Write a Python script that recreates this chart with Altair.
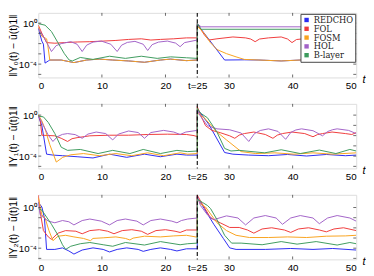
import altair as alt
import pandas as pd

SERIES = ["REDCHO", "FOL", "FOSM", "HOL", "B-layer"]
COLORS = ["#2b2bf2", "#f03a3a", "#f9a31e", "#a262c8", "#3d9b5d"]
X_TICKS = [0, 10, 20, 25, 30, 40, 50]
X_MINOR = [10, 20, 30, 40]
Y_LABELS = [1, 1e-4]
DECADES = [-5, -4, -3, -2, -1, 0]
JUMP_T = [25]

TITLES = ["‖Y₀(t) − ū(t)1‖", "‖Y₁(t) − ū̇(t)1‖", "‖Y₂(t) − ṻ(t)1‖"]
LOG_DOMAINS = [(-5.3, 1.0), (-5.2, 1.1), (-5.1, 1.25)]

# (t, log10 of the error)
P1_REDCHO = [(0,-0.5),(0.55,-1.75),(0.8,-2.05),(1.06,-3.9),(1.57,-3.69),(1.8,-3.6),(3.6,-3.6),(5.6,-3.85),(7.6,-3.6),(9.6,-3.51),(11.7,-3.6),(14.2,-3.69),(16.7,-3.82),(19.2,-3.6),(20.8,-3.51),(23.3,-3.66),(25,-3.6),(25,-0.1),(29.3,-3.6),(32.4,-3.58),(34.7,-3.6),(38.2,-3.69),(41.2,-3.6),(44.2,-3.51),(47.3,-3.69),(50,-3.6)]
P1_FOL = [(0,-0.2),(0.55,-0.98),(1.3,-1.9),(2.6,-1.96),(4.1,-1.9),(6.1,-1.84),(8.1,-1.81),(10.2,-1.75),(12.2,-1.69),(14.2,-1.59),(16.2,-1.53),(17.7,-1.65),(19.2,-1.59),(21.3,-1.53),(23.3,-1.44),(25,-1.44),(25,-0.05),(26.1,-1.13),(26.8,-1.65),(28.1,-1.53),(30.6,-1.35),(32.6,-1.44),(33.4,-1.55),(34.1,-1.81),(34.8,-1.55),(36.2,-1.44),(38.2,-1.35),(39.2,-1.55),(39.9,-1.9),(40.6,-1.6),(41.7,-1.53),(44.2,-1.41),(46.8,-1.53),(48.6,-1.75),(50,-1.6)]
P1_FOSM = [(0,-0.35),(0.55,-1.28),(1.3,-1.53),(1.5,-2.2),(1.8,-3.6),(3.6,-3.6),(5.6,-3.85),(7.6,-3.6),(9.6,-3.51),(11.7,-3.6),(14.2,-3.69),(16.7,-3.82),(19.2,-3.6),(20.8,-3.51),(23.3,-3.66),(25,-3.6),(25,-0.3),(26.06,-0.98),(27.06,-1.9),(28.1,-2.58),(29.6,-2.98),(31.1,-3.29),(32.4,-3.54),(34.7,-3.6),(38.2,-3.69),(41.2,-3.6),(44.2,-3.51),(47.3,-3.69),(50,-3.6)]
P1_HOL = [(0,-0.51),(1.06,-1.59),(2.07,-2.77),(2.8,-2.2),(3.6,-2.0),(5.1,-1.81),(6.1,-2.06),(6.9,-2.77),(7.6,-2.15),(8.6,-1.85),(9.9,-1.75),(11.4,-2.06),(12.4,-2.77),(13.1,-2.15),(14.0,-1.88),(15.2,-1.78),(16.5,-2.06),(17.2,-2.67),(17.9,-2.1),(18.9,-1.85),(20.3,-1.75),(21.6,-1.95),(22.3,-2.3),(23.0,-1.9),(25,-1.65),(25,-0.05),(25.6,-0.36),(50,-0.36)]
P1_BLAYER = [(0,-0.05),(1.06,-0.2),(2.07,-0.82),(3.08,-1.9),(4.1,-2.98),(4.85,-3.6),(5.35,-3.69),(6.6,-3.35),(8.6,-3.54),(11.2,-3.23),(13.7,-3.44),(16.2,-3.23),(18.7,-3.44),(20.8,-3.29),(23.3,-3.38),(25,-3.44),(25,-0.05),(25.6,-0.6),(50,-0.6)]

P2_REDCHO = [(0,-0.1),(0.56,-1.03),(1.3,-3.81),(2.3,-3.9),(3.8,-3.96),(6.1,-4.06),(8.6,-4.18),(11.2,-3.81),(13.9,-4.12),(16.7,-3.81),(19.2,-4.06),(21.8,-3.81),(23.3,-3.9),(25,-3.9),(25,0.51),(25.3,0.36),(26.8,-0.88),(29.3,-3.65),(30.6,-3.81),(33.1,-3.9),(36.2,-3.96),(39.2,-3.84),(42.2,-3.99),(45.3,-3.84),(48.3,-3.96),(50,-3.9)]
P2_FOL = [(0,0.0),(0.3,-0.5),(0.56,-1.96),(2.6,-2.02),(3.6,-2.26),(4.6,-2.57),(5.3,-2.3),(6.1,-2.2),(8.1,-2.02),(11.2,-1.96),(14.2,-1.96),(17.2,-1.89),(20.3,-1.86),(23.3,-1.89),(24.5,-2.0),(25,-2.1),(25,0.82),(25.5,0.05),(26.3,-1.03),(27.3,-1.49),(28.6,-1.71),(30.1,-2.02),(30.9,-2.26),(31.6,-1.95),(32.4,-1.8),(33.9,-1.65),(35.7,-1.89),(36.9,-2.26),(37.6,-1.95),(38.4,-1.8),(39.9,-1.65),(41.9,-1.8),(43.2,-2.11),(43.9,-1.9),(44.7,-1.8),(46.2,-1.65),(48.3,-1.8),(49.3,-1.89),(50,-1.71)]
P2_FOSM = [(0,0.05),(0.56,-0.57),(1.06,-1.34),(1.8,-2.88),(2.83,-4.58),(3.84,-4.12),(5.1,-3.87),(7.1,-3.75),(9.6,-3.96),(12.2,-3.75),(14.7,-3.96),(17.2,-3.68),(19.7,-3.96),(22.3,-3.68),(23.5,-3.81),(25,-3.75),(25,0.2),(26.1,-0.26),(28.1,-1.65),(29.6,-2.42),(31.9,-3.56),(34.2,-3.75),(37.2,-3.68),(40.2,-3.81),(43.2,-3.68),(46.3,-3.81),(50,-3.68)]
P2_HOL = [(0,-0.04),(0.8,-1.03),(1.57,-1.96),(2.3,-2.57),(3.0,-2.1),(3.8,-1.88),(4.6,-1.8),(5.8,-1.9),(6.9,-2.26),(7.8,-1.85),(9.1,-1.65),(10.6,-1.8),(11.7,-2.42),(12.6,-1.85),(14.2,-1.55),(15.7,-1.7),(16.7,-2.26),(17.7,-1.7),(19.7,-1.49),(21.3,-1.65),(22.3,-1.89),(23.2,-1.65),(25,-1.49),(25,0.51),(25.5,-0.1),(26.6,-1.03),(28.1,-1.34),(30.1,-1.43),(31.9,-1.75),(33.1,-2.57),(34.0,-1.8),(34.9,-1.5),(36.2,-1.34),(37.7,-1.59),(38.9,-2.36),(39.7,-1.7),(40.5,-1.45),(41.4,-1.34),(43.2,-1.52),(44.7,-2.02),(45.5,-1.6),(46.3,-1.42),(47.0,-1.34),(48.8,-1.49),(50,-1.8)]
P2_BLAYER = [(0,-0.1),(0.8,-0.17),(1.57,-0.72),(2.6,-1.8),(3.6,-3.13),(4.6,-3.44),(6.6,-3.35),(9.4,-3.75),(11.7,-3.44),(14.4,-3.75),(16.5,-3.35),(19.2,-3.75),(21.8,-3.44),(23.5,-3.56),(25,-3.5),(25,0.67),(25.5,0.2),(26.6,-0.26),(28.1,-1.65),(29.3,-3.25),(30.3,-3.5),(31.6,-3.44),(35.6,-3.68),(38.2,-3.38),(41.2,-3.75),(44.2,-3.41),(46.8,-3.75),(49.0,-3.35),(50,-3.5)]

P3_REDCHO = [(0,0.51),(0.56,0.05),(0.96,-1.03),(1.3,-4.12),(2.6,-4.12),(3.8,-3.97),(4.8,-4.27),(5.6,-4.58),(6.9,-4.18),(8.6,-3.97),(10.2,-4.12),(11.2,-4.37),(12.4,-4.12),(13.9,-3.97),(15.7,-4.12),(16.5,-4.31),(17.7,-4.12),(19.2,-3.97),(20.8,-4.12),(21.8,-4.27),(23.3,-4.06),(25,-4.06),(25,0.97),(25.5,0.51),(26.1,-0.11),(27.6,-1.65),(29.1,-3.04),(30.1,-3.97),(31.1,-4.12),(35.7,-4.12),(39.7,-4.03),(43.2,-4.12),(46.3,-4.03),(50,-4.18)]
P3_FOL = [(0,1.22),(0.2,-0.11),(0.8,-2.27),(1.57,-2.89),(2.07,-3.13),(3.1,-2.52),(4.3,-2.27),(5.9,-2.33),(6.9,-2.58),(8.1,-2.27),(9.6,-2.18),(10.9,-2.33),(11.9,-2.58),(13.2,-2.27),(14.7,-2.18),(16.2,-2.33),(17.2,-2.64),(18.5,-2.27),(20.0,-2.18),(21.5,-2.33),(22.3,-2.45),(23.3,-2.21),(25,-2.21),(25,1.22),(25.5,0.66),(27.1,-1.03),(28.6,-1.5),(30.1,-1.96),(31.6,-1.96),(32.9,-2.21),(33.9,-2.52),(35.2,-2.11),(36.7,-1.99),(38.7,-2.21),(39.7,-2.45),(40.9,-2.11),(42.5,-1.99),(44.2,-2.21),(45.3,-2.39),(46.5,-2.11),(48.0,-1.99),(50,-2.27)]
P3_FOSM = [(0,0.97),(0.56,-0.73),(1.06,-1.03),(1.67,-2.27),(2.3,-3.26),(3.1,-2.82),(4.3,-2.73),(5.6,-2.89),(7.1,-3.04),(8.2,-3.26),(8.6,-3.04),(10.2,-2.98),(12.2,-2.89),(13.7,-3.04),(14.4,-3.19),(14.9,-3.01),(16.7,-2.82),(19.2,-2.89),(21.3,-2.79),(23.3,-2.73),(25,-2.92),(25,0.97),(25.5,0.35),(26.3,0.05),(28.1,-1.5),(29.6,-2.27),(31.1,-2.73),(33.2,-2.95),(36.2,-2.95),(39.2,-2.89),(42.2,-2.95),(45.3,-2.82),(48.3,-2.79),(50,-2.73)]
P3_HOL = [(0,0.51),(0.3,-0.72),(1.57,-1.34),(2.6,-1.5),(3.8,-1.28),(4.8,-1.4),(5.6,-1.71),(6.9,-1.28),(8.1,-1.13),(9.9,-1.34),(11.2,-1.71),(12.4,-1.28),(13.7,-1.13),(15.5,-1.34),(16.5,-1.71),(17.7,-1.28),(19.2,-1.13),(21.0,-1.34),(21.8,-1.5),(22.5,-1.28),(23.5,-1.13),(25,-1.03),(25,1.13),(25.5,0.2),(26.6,-0.72),(27.6,-1.19),(29.6,-0.82),(31.4,-1.03),(32.6,-1.71),(33.9,-1.03),(35.7,-0.79),(37.4,-1.03),(38.4,-1.65),(39.7,-1.03),(41.2,-0.79),(43.2,-1.03),(44.2,-1.59),(45.5,-1.03),(47.0,-0.79),(49.0,-1.03),(50,-1.34)]
P3_BLAYER = [(0,-0.11),(0.56,-0.26),(1.06,-0.72),(2.07,-1.65),(3.1,-2.73),(3.8,-3.66),(4.3,-4.12),(5.1,-3.81),(6.6,-3.56),(8.1,-3.44),(10.2,-3.66),(11.7,-3.81),(13.7,-3.44),(16.7,-3.69),(19.2,-3.35),(22.3,-3.66),(23.5,-3.56),(25,-3.5),(25,0.82),(25.8,0.51),(26.6,0.2),(27.1,-0.11),(28.1,-1.19),(29.3,-2.73),(30.4,-3.5),(31.9,-3.5),(35.2,-3.66),(38.2,-3.35),(40.7,-3.6),(43.7,-3.35),(47.0,-3.69),(49.0,-3.44),(50,-3.56)]

PANELS = [
    [P1_REDCHO, P1_FOL, P1_FOSM, P1_HOL, P1_BLAYER],
    [P2_REDCHO, P2_FOL, P2_FOSM, P2_HOL, P2_BLAYER],
    [P3_REDCHO, P3_FOL, P3_FOSM, P3_HOL, P3_BLAYER],
]

W, H = 325, 66
FONT = "DejaVu Serif"
FRAME = "#444444"


def make_panel(k):
    rows = []
    for s, pts in zip(SERIES, PANELS[k]):
        for i, (t, lv) in enumerate(pts):
            rows.append({"series": s, "t": t, "v": 10 ** lv, "i": i})
    df = pd.DataFrame(rows)
    lo, hi = LOG_DOMAINS[k]
    xs = alt.Scale(domain=[0, 50], nice=False, zero=False)
    ys = alt.Scale(type="log", domain=[10 ** lo, 10 ** hi], nice=False)
    cs = alt.Scale(domain=SERIES, range=COLORS)

    xaxis = alt.Axis(values=X_TICKS, ticks=False, domain=False, grid=False,
                     labelExpr="datum.value == 25 ? 't=25' : datum.label",
                     labelPadding=3, title="t", titleFontStyle="italic",
                     titleX=W + 6, titleY=2, titleAlign="left", titleBaseline="middle",
                     titleFontWeight="normal", titleFontSize=11)
    yaxis = alt.Axis(values=Y_LABELS, ticks=False, domain=False, grid=False,
                     labelExpr="datum.value > 0.5 ? '10⁰' : '10⁻⁴'",
                     labelPadding=2, title=TITLES[k], titlePadding=0,
                     titleFontWeight="normal", titleFontSize=10.5)

    layers = []
    if k == 0:
        leg = alt.Chart(pd.DataFrame({"series": SERIES})).mark_square(
            opacity=0, filled=True
        ).encode(
            color=alt.Color("series:N", scale=cs, legend=alt.Legend(
                orient="top-right", title=None, symbolType="square", symbolSize=20,
                symbolStrokeWidth=0, symbolOpacity=1, labelFont=FONT, labelFontSize=8.5,
                labelColor="#222", padding=2, strokeColor=FRAME, fillColor="white",
                offset=1, rowPadding=-1, labelOffset=3)),
        )
        layers.append(leg)
        color = alt.Color("series:N", scale=cs)
    else:
        color = alt.Color("series:N", scale=cs, legend=None)

    lines = alt.Chart(df).mark_line(strokeWidth=1, clip=True).encode(
        x=alt.X("t:Q", scale=xs, axis=xaxis),
        y=alt.Y("v:Q", scale=ys, axis=yaxis),
        color=color,
        order=alt.Order("i:Q"),
        detail="series:N",
    )
    layers.insert(0, lines)

    jump = alt.Chart(pd.DataFrame({"t": JUMP_T})).mark_rule(
        color="black", strokeDash=[4, 2.5], strokeWidth=1.1).encode(x=alt.X("t:Q", scale=xs))
    xt = pd.DataFrame({"t": X_MINOR})
    yt = pd.DataFrame({"v": [10.0 ** d for d in DECADES]})
    tick_b = alt.Chart(xt).mark_rule(color=FRAME, strokeWidth=0.8).encode(
        x=alt.X("t:Q", scale=xs), y=alt.value(H), y2=alt.value(H - 3))
    tick_t = alt.Chart(xt).mark_rule(color=FRAME, strokeWidth=0.8).encode(
        x=alt.X("t:Q", scale=xs), y=alt.value(0), y2=alt.value(3))
    tick_l = alt.Chart(yt).mark_rule(color=FRAME, strokeWidth=0.8).encode(
        y=alt.Y("v:Q", scale=ys), x=alt.value(0), x2=alt.value(3))
    tick_r = alt.Chart(yt).mark_rule(color=FRAME, strokeWidth=0.8).encode(
        y=alt.Y("v:Q", scale=ys), x=alt.value(W), x2=alt.value(W - 3))
    layers += [jump, tick_b, tick_t, tick_l, tick_r]
    return alt.layer(*layers).properties(width=W, height=H)


chart = alt.vconcat(make_panel(0), make_panel(1), make_panel(2), spacing=27, bounds="flush") \
    .resolve_scale(color="independent", x="independent", y="independent") \
    .properties(padding=0) \
    .configure_view(stroke=FRAME, strokeWidth=1) \
    .configure_axis(labelFont=FONT, labelFontSize=9.5, labelColor="#333",
                    titleFont=FONT, titleFontSize=9.5, titleColor="#333") \
    .configure(background="white")

chart.save("out.html", embed_options={"renderer": "svg", "actions": False})
